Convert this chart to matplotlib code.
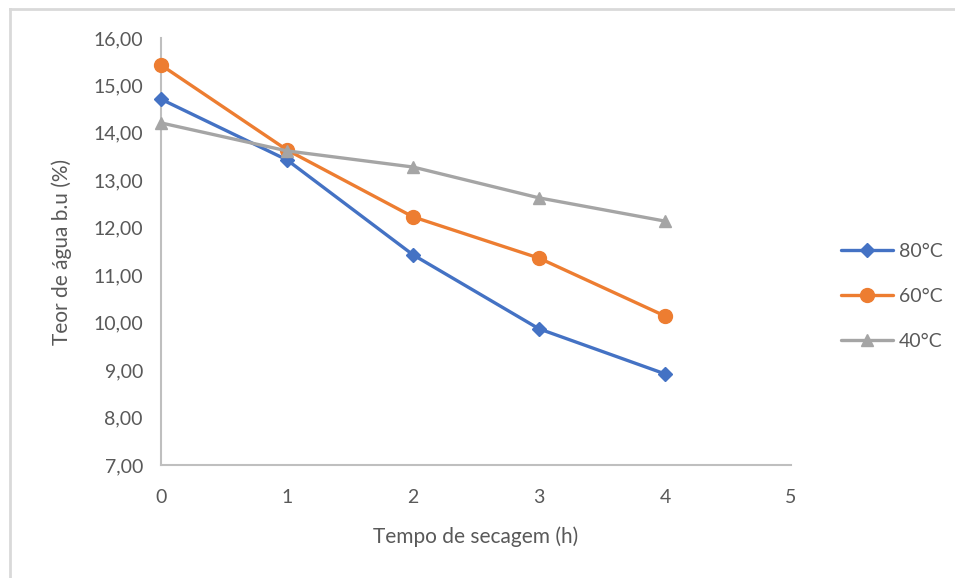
import matplotlib
matplotlib.use("Agg")
import matplotlib.pyplot as plt
from matplotlib.lines import Line2D

# Drying time (h) and water content on a wet basis (%)
tempo = [0, 1, 2, 3, 4]
teor_80 = [14.71, 13.43, 11.43, 9.87, 8.92]
teor_60 = [15.43, 13.64, 12.23, 11.36, 10.14]
teor_40 = [14.21, 13.62, 13.28, 12.63, 12.14]

series = [
    ("80°C", teor_80, "#4472C4", "D", 7),
    ("60°C", teor_60, "#ED7D31", "o", 10),
    ("40°C", teor_40, "#A5A5A5", "^", 9),
]

x_ticks = [0, 1, 2, 3, 4, 5]
y_ticks = [7, 8, 9, 10, 11, 12, 13, 14, 15, 16]

plt.rcParams["font.family"] = ["Lato", "DejaVu Sans"]
text_color = "#595959"
axis_color = "#BFBFBF"

fig = plt.figure(figsize=(9.55, 5.78), dpi=100)
ax = fig.add_axes([0.1686, 0.1955, 0.6597, 0.7388])

for label, values, color, marker, msize in series:
    ax.plot(tempo, values, color=color, lw=2.4, marker=marker,
            markersize=msize, markeredgecolor=color, markerfacecolor=color,
            label=label, solid_capstyle="round", clip_on=False, zorder=3)

ax.set_xlim(0, 5)
ax.set_ylim(7, 16)
ax.set_xticks(x_ticks)
ax.set_yticks(y_ticks)
ax.set_yticklabels([f"{v:.2f}".replace(".", ",") for v in y_ticks])
ax.tick_params(axis="both", length=0, labelsize=14, colors=text_color)
ax.tick_params(axis="x", pad=17)
ax.tick_params(axis="y", pad=13)

for side in ("top", "right"):
    ax.spines[side].set_visible(False)
for side in ("left", "bottom"):
    ax.spines[side].set_color(axis_color)
    ax.spines[side].set_linewidth(1.5)

ax.set_xlabel("Tempo de secagem (h)", fontsize=15, color=text_color, labelpad=15)
ax.set_ylabel("Teor de água b.u (%)", fontsize=15, color=text_color, labelpad=15)

leg = ax.legend(loc="center left", bbox_to_anchor=(0.862, 0.487),
                bbox_transform=fig.transFigure, frameon=False, fontsize=14,
                handlelength=2.7, labelspacing=1.45, handletextpad=0.3,
                labelcolor=text_color)

# Light frame around the chart area
border = "#D9D9D9"
fig.add_artist(Line2D([10 / 955, 1], [1 - 8.5 / 578, 1 - 8.5 / 578],
                      transform=fig.transFigure, color=border, lw=2))
fig.add_artist(Line2D([10 / 955, 10 / 955], [0, 1 - 8.5 / 578],
                      transform=fig.transFigure, color=border, lw=2))

fig.savefig("out.png", dpi=100, facecolor="white")
